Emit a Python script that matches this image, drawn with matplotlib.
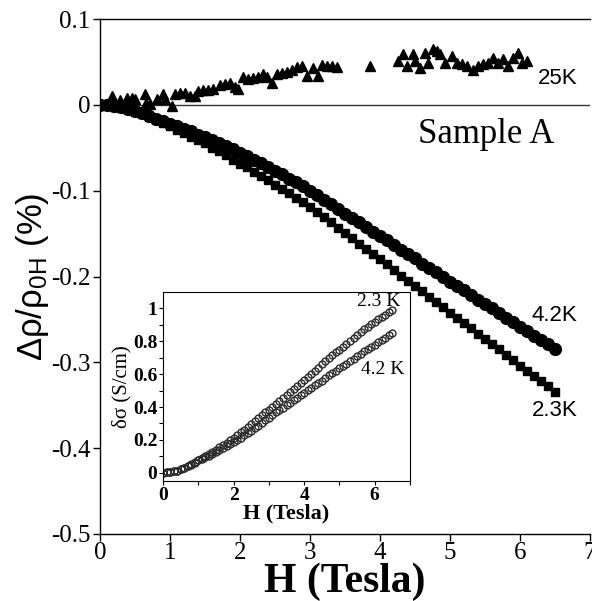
import numpy as np
import matplotlib
matplotlib.use("Agg")
import matplotlib.pyplot as plt

plt.rcParams['mathtext.fontset'] = 'custom'
plt.rcParams['mathtext.rm'] = 'Liberation Sans'
plt.rcParams['mathtext.it'] = 'Liberation Sans:italic'
plt.rcParams['mathtext.bf'] = 'Liberation Sans:bold'

# ---------------- data (main panel) ----------------
H_main = [round(0.1 * i, 1) for i in range(66)]

rho_4K2 = [0.000, -0.000, -0.001, -0.003, -0.005, -0.007, -0.010, -0.013, -0.016, -0.019,
           -0.022, -0.025, -0.028, -0.031, -0.035, -0.038, -0.041, -0.045, -0.048, -0.052,
           -0.056, -0.060, -0.064, -0.068, -0.072, -0.077, -0.081, -0.086, -0.090, -0.095,
           -0.100, -0.105, -0.111, -0.116, -0.121, -0.127, -0.132, -0.137, -0.142, -0.148,
           -0.153, -0.158, -0.163, -0.169, -0.174, -0.179, -0.185, -0.190, -0.195, -0.200,
           -0.206, -0.211, -0.216, -0.221, -0.227, -0.232, -0.237, -0.243, -0.248, -0.253,
           -0.259, -0.264, -0.269, -0.274, -0.279, -0.284]

rho_2K3 = [0.000, -0.000, -0.002, -0.004, -0.006, -0.008, -0.011, -0.014, -0.018, -0.021,
           -0.025, -0.029, -0.033, -0.037, -0.041, -0.045, -0.050, -0.054, -0.059, -0.064,
           -0.069, -0.073, -0.078, -0.083, -0.088, -0.093, -0.098, -0.103, -0.108, -0.113,
           -0.119, -0.125, -0.131, -0.137, -0.143, -0.149, -0.155, -0.162, -0.168, -0.174,
           -0.180, -0.186, -0.192, -0.199, -0.205, -0.211, -0.217, -0.224, -0.230, -0.236,
           -0.242, -0.248, -0.254, -0.260, -0.267, -0.273, -0.279, -0.285, -0.291, -0.297,
           -0.304, -0.310, -0.316, -0.322, -0.328, -0.334]

H_25K = [0.03, 0.17, 0.29, 0.39, 0.46, 0.50, 0.64, 0.66, 0.71, 0.81, 0.90, 0.93, 1.03, 1.07,
         1.14, 1.21, 1.29, 1.36, 1.40, 1.47, 1.54, 1.61, 1.71, 1.79, 1.86, 1.93, 1.97, 2.04,
         2.11, 2.19, 2.26, 2.33, 2.39, 2.46, 2.53, 2.60, 2.67, 2.74, 2.81, 2.89, 2.96, 3.04,
         3.11, 3.17, 3.24, 3.31, 3.39, 3.86, 4.26, 4.33, 4.39, 4.47, 4.50, 4.57, 4.64, 4.69,
         4.76, 4.81, 4.86, 4.93, 5.03, 5.10, 5.17, 5.24, 5.33, 5.40, 5.47, 5.54, 5.61, 5.69,
         5.76, 5.83, 5.90, 5.97, 6.03, 6.10]
rho_25K = [0.001, 0.010, 0.006, 0.008, 0.008, 0.007, 0.013, 0.002, 0.001, 0.007, 0.013, 0.007,
           -0.001, 0.013, 0.014, 0.014, 0.010, 0.010, 0.016, 0.017, 0.017, 0.019, 0.023, 0.024,
           0.026, 0.021, 0.019, 0.032, 0.030, 0.031, 0.033, 0.036, 0.032, 0.026, 0.036, 0.037,
           0.038, 0.040, 0.044, 0.045, 0.034, 0.043, 0.034, 0.046, 0.045, 0.045, 0.044, 0.045,
           0.051, 0.059, 0.045, 0.059, 0.051, 0.043, 0.060, 0.049, 0.065, 0.063, 0.059, 0.049,
           0.057, 0.049, 0.048, 0.045, 0.040, 0.045, 0.048, 0.049, 0.055, 0.049, 0.053, 0.045,
           0.055, 0.060, 0.049, 0.051]

# ---------------- data (inset) ----------------
H_inset = [round(0.1 * i, 1) for i in range(66)]
sig_2K3 = [0.000, 0.002, 0.004, 0.008, 0.013, 0.020, 0.029, 0.039, 0.051, 0.065,
           0.078, 0.090, 0.103, 0.115, 0.128, 0.140, 0.154, 0.168, 0.183, 0.198,
           0.214, 0.230, 0.246, 0.263, 0.280, 0.297, 0.315, 0.333, 0.350, 0.368,
           0.385, 0.403, 0.421, 0.439, 0.457, 0.475, 0.493, 0.511, 0.529, 0.547,
           0.565, 0.583, 0.601, 0.620, 0.640, 0.660, 0.678, 0.696, 0.714, 0.732,
           0.750, 0.768, 0.786, 0.804, 0.822, 0.840, 0.856, 0.872, 0.888, 0.904,
           0.920, 0.934, 0.948, 0.962, 0.976, 0.990]
sig_4K2 = [0.000, 0.002, 0.004, 0.008, 0.013, 0.020, 0.029, 0.039, 0.050, 0.062,
           0.075, 0.085, 0.095, 0.105, 0.115, 0.125, 0.137, 0.149, 0.161, 0.173,
           0.185, 0.199, 0.213, 0.227, 0.241, 0.255, 0.271, 0.287, 0.303, 0.319,
           0.335, 0.351, 0.367, 0.382, 0.396, 0.410, 0.426, 0.442, 0.457, 0.471,
           0.485, 0.501, 0.517, 0.532, 0.546, 0.560, 0.576, 0.592, 0.607, 0.621,
           0.635, 0.649, 0.663, 0.678, 0.694, 0.710, 0.724, 0.738, 0.752, 0.766,
           0.780, 0.794, 0.808, 0.822, 0.836, 0.850]

main_xticks = [0, 1, 2, 3, 4, 5, 6, 7]
main_yticks = [0.1, 0, -0.1, -0.2, -0.3, -0.4, -0.5]
main_yticklabels = ['0.1', '0', '-0.1', '-0.2', '-0.3', '-0.4', '-0.5']
inset_xticks = [0, 2, 4, 6]
inset_yticks = [0, 0.2, 0.4, 0.6, 0.8, 1.0]
inset_yticklabels = ['0', '0.2', '0.4', '0.6', '0.8', '1']

serif = 'Liberation Serif'
sans = 'Liberation Sans'

fig = plt.figure(figsize=(5.92, 6.01), dpi=100)
ax = fig.add_axes([100 / 592, 1 - 534 / 601, 490 / 592, 515 / 601])

ax.axhline(0, color='#333333', lw=1.0, zorder=1)
ax.plot(H_25K, rho_25K, linestyle='none', marker='^', ms=6.5, color='black', zorder=3)
ax.plot(H_main, rho_2K3, linestyle='none', marker='s', ms=6, color='black', zorder=3)
ax.plot(H_main, rho_4K2, linestyle='none', marker='o', ms=8.5, color='black', zorder=3)

ax.set_xlim(0, 7)
ax.set_ylim(-0.5, 0.1)
ax.set_xticks(main_xticks)
ax.set_xticklabels([str(t) for t in main_xticks], fontfamily=serif, fontsize=18)
ax.set_yticks(main_yticks)
ax.set_yticklabels(main_yticklabels, fontfamily=serif, fontsize=18)
ax.tick_params(direction='out', length=5, width=1.0, pad=2)
ax.tick_params(axis='x', pad=1)
ax.spines['right'].set_visible(False)
for s in ['left', 'bottom', 'top']:
    ax.spines[s].set_linewidth(1.0)

ax.set_xlabel('H (Tesla)', fontfamily=serif, fontweight='bold', fontsize=30, labelpad=-1)
ax.set_ylabel('Δρ/ρ$_{\\mathrm{0H}}$ (%)', fontfamily=sans, fontsize=25, labelpad=0)

ax.text(6.25, 0.031, '25K', fontfamily=sans, fontsize=16, ha='left', va='center')
ax.text(4.55, -0.035, 'Sample A', fontfamily=serif, fontsize=25, ha='left', va='center')
ax.text(6.17, -0.245, '4.2K', fontfamily=sans, fontsize=16, ha='left', va='center')
ax.text(6.17, -0.356, '2.3K', fontfamily=sans, fontsize=16, ha='left', va='center')

# ---------------- inset ----------------
ins = fig.add_axes([163 / 592, 1 - 481 / 601, 247 / 592, 189 / 601])
ins.plot(H_inset, sig_2K3, linestyle='none', marker='o', ms=5, mfc='none', mec='#2a2a2a', mew=1.0)
ins.plot(H_inset, sig_4K2, linestyle='none', marker='o', ms=5, mfc='none', mec='#2a2a2a', mew=1.0)
ins.set_xlim(0, 7)
ins.set_ylim(-0.05, 1.1)
ins.set_xticks(inset_xticks)
ins.set_xticks([1, 3, 5, 7], minor=True)
ins.set_xticklabels([str(t) for t in inset_xticks], fontfamily=serif, fontweight='bold', fontsize=14)
ins.set_yticks(inset_yticks)
ins.set_yticks([0.1, 0.3, 0.5, 0.7, 0.9], minor=True)
ins.set_yticklabels(inset_yticklabels, fontfamily=serif, fontweight='bold', fontsize=14)
ins.tick_params(which='both', direction='out', length=3, width=0.8, pad=1)
for s in ins.spines.values():
    s.set_linewidth(0.8)
ins.set_xlabel('H (Tesla)', fontfamily=serif, fontweight='bold', fontsize=16, labelpad=0)
ins.set_ylabel('δσ (S/cm)', fontfamily=serif, fontsize=15, labelpad=1)
ins.text(5.5, 1.04, '2.3 K', fontfamily=serif, fontsize=14, ha='left', va='center')
ins.text(5.6, 0.63, '4.2 K', fontfamily=serif, fontsize=14, ha='left', va='center')

fig.savefig('out.png', dpi=100)
